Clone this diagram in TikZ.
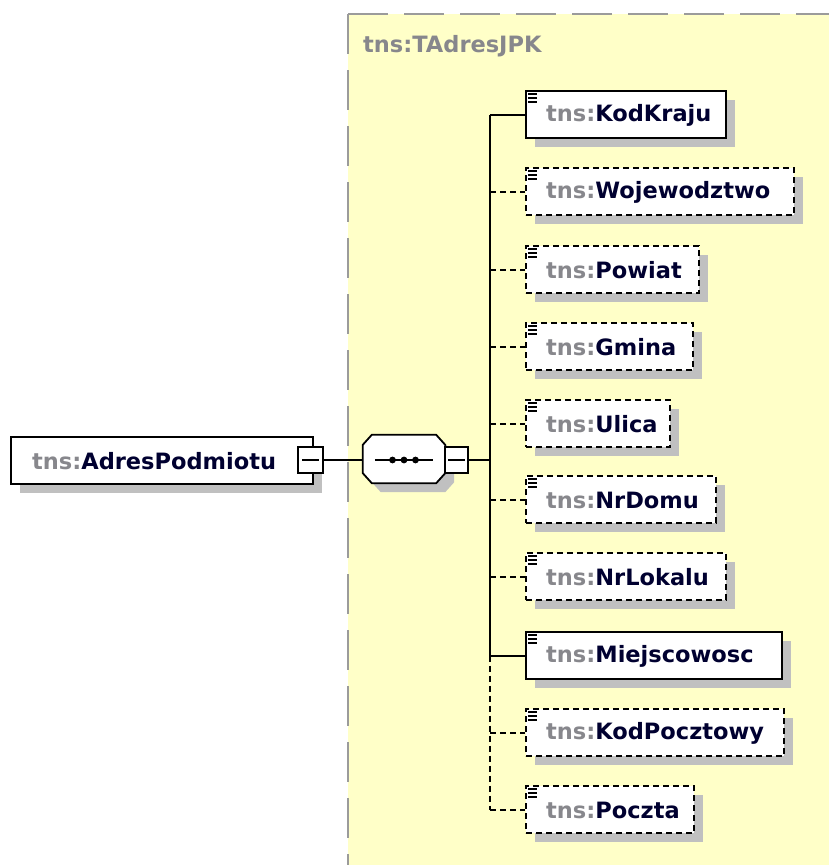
\documentclass[tikz,border=0pt]{standalone}
\usepackage{fontspec}
\setmainfont{DejaVu Sans}
\usetikzlibrary{shadows}

\definecolor{typefill}{RGB}{255,255,200}
\definecolor{typeborder}{RGB}{155,155,155}
\definecolor{nsgray}{RGB}{135,135,140}
\definecolor{namecol}{RGB}{0,0,48}
\definecolor{shadowgray}{RGB}{192,192,192}

\newcommand\tns{\textcolor{nsgray}{tns:}}

% one child element of the sequence: name, x, top y, width, box style, local name
\newcommand\xsdelem[6]{%
  \node[#5, minimum width=#4pt] (#1) at (#2,#3) {};
  \node[elemtext] (#1-text) at ([xshift=21pt,yshift=-1pt]#1.west) {\tns#6};
  \foreach \k in {4,8,12}
    \draw[iconline] ([shift={(3pt,-\k pt)}]#1.north west) -- ++(9pt,0pt);
}

% octagon outline of the sequence compositor, shifted by (#1pt,#2pt)
\newcommand\seqoctagon[2]{%
  ([shift={(#1pt+9pt,#2pt)}]seq.north west) --
  ([shift={(#1pt-9pt,#2pt)}]seq.north east) --
  ([shift={(#1pt,#2pt-10pt)}]seq.north east) --
  ([shift={(#1pt,#2pt+10pt)}]seq.south east) --
  ([shift={(#1pt-9pt,#2pt)}]seq.south east) --
  ([shift={(#1pt+9pt,#2pt)}]seq.south west) --
  ([shift={(#1pt,#2pt+10pt)}]seq.south west) --
  ([shift={(#1pt,#2pt-10pt)}]seq.north west) -- cycle}

\tikzset{
  boxshadow/.style={drop shadow={shadow xshift=9pt, shadow yshift=-9pt,
      fill=shadowgray, opacity=1}},
  elemreq/.style={draw=black, line width=2.2pt, fill=white, minimum height=47pt,
      anchor=north west, inner sep=0pt, boxshadow},
  elemopt/.style={elemreq, line width=2pt, dash pattern=on 6pt off 4pt},
  elemtext/.style={anchor=west, inner sep=0pt, text=namecol,
      font=\bfseries\fontsize{22.5pt}{26pt}\selectfont},
  iconline/.style={line width=1.5pt, black},
  reqline/.style={draw=black, line width=2pt},
  optline/.style={draw=black, line width=2pt, dash pattern=on 6pt off 4pt},
  minusbox/.style={draw=black, line width=1.6pt, fill=white, inner sep=0pt},
}

\begin{document}
\begin{tikzpicture}[x=1pt,y=-1pt]
\useasboundingbox (0,0) rectangle (828,865);

% complex type area
\node[fill=typefill, anchor=north west, minimum width=520pt, minimum height=900pt,
      inner sep=0pt] (typearea) at (348,14) {};
\draw[typeborder, line width=2pt, dash pattern=on 40pt off 16pt]
  (typearea.north west) -- (typearea.south west);
\draw[typeborder, line width=2pt, dash pattern=on 40pt off 16pt]
  (typearea.north west) -- (typearea.north east);
\node[anchor=west, inner sep=0pt, text=nsgray,
      font=\bfseries\fontsize{22.5pt}{26pt}\selectfont] (typename) at (363,46) {tns:TAdresJPK};

% root element
\node[elemreq, minimum width=302pt, minimum height=47pt] (root) at (10,436) {};
\node[elemtext] (root-text) at ([xshift=22pt,yshift=-1pt]root.west) {\tns AdresPodmiotu};
\node[minusbox, minimum width=25pt, minimum height=26pt] (rootminus) at (310.5,460) {};
\draw[line width=1.4pt] ([xshift=5pt]rootminus.west) -- ([xshift=-5pt]rootminus.east);
\draw[line width=1.8pt] ([xshift=-0.9pt]rootminus.north east) -- ([xshift=-0.9pt,yshift=1.5pt]rootminus.south east)
  ([yshift=0.9pt]rootminus.south west) -- ([xshift=-0.2pt,yshift=0.9pt]rootminus.south east);

% sequence compositor
\node[minimum width=82pt, minimum height=48pt, inner sep=0pt] (seq) at (404,459) {};
\fill[shadowgray] \seqoctagon{9}{-9};
\filldraw[fill=white, draw=black, line width=1.8pt] \seqoctagon{0}{0};
\draw[line width=1.6pt] ([xshift=12pt,yshift=-1pt]seq.west) -- ([xshift=-12pt,yshift=-1pt]seq.east);
\foreach \dx in {-11.5,0,11.5}
  \fill ([xshift=\dx pt,yshift=-1pt]seq.center) circle (3.4pt);
\node[minusbox, minimum width=23pt, minimum height=26pt] (seqminus) at (456.5,460) {};
\draw[line width=1.4pt] ([xshift=4pt]seqminus.west) -- ([xshift=-4pt]seqminus.east);
\draw[line width=1.8pt] ([xshift=-0.9pt]seqminus.north east) -- ([xshift=-0.9pt,yshift=1.5pt]seqminus.south east)
  ([yshift=0.9pt]seqminus.south west) -- ([xshift=-0.2pt,yshift=0.9pt]seqminus.south east);

\draw[reqline] (rootminus.east) -- (rootminus.east -| seq.west);

% children of the sequence
\xsdelem{kodkraju}{525}{90}{200}{elemreq}{KodKraju}
\xsdelem{wojewodztwo}{525}{167}{268}{elemopt}{Wojewodztwo}
\xsdelem{powiat}{525}{245}{173}{elemopt}{Powiat}
\xsdelem{gmina}{525}{322}{167}{elemopt}{Gmina}
\xsdelem{ulica}{525}{399}{144}{elemopt}{Ulica}
\xsdelem{nrdomu}{525}{475}{190}{elemopt}{NrDomu}
\xsdelem{nrlokalu}{525}{552}{200}{elemopt}{NrLokalu}
\xsdelem{miejscowosc}{525}{631}{256}{elemreq}{Miejscowosc}
\xsdelem{kodpocztowy}{525}{708}{258}{elemopt}{KodPocztowy}
\xsdelem{poczta}{525}{785}{168}{elemopt}{Poczta}

% trunk of the sequence
\coordinate (trunk) at (490,0);
\draw[reqline] (seqminus.east) -- (seqminus.east -| trunk);
\draw[reqline] (kodkraju.west -| trunk) -- (miejscowosc.west -| trunk);
\draw[optline] (miejscowosc.west -| trunk) -- (poczta.west -| trunk);
\draw[reqline] (kodkraju.west -| trunk) -- (kodkraju.west);
\draw[reqline] (miejscowosc.west -| trunk) -- (miejscowosc.west);
\foreach \n in {wojewodztwo,powiat,gmina,ulica,nrdomu,nrlokalu,kodpocztowy,poczta}
  \draw[optline] (\n.west -| trunk) -- (\n.west);
\end{tikzpicture}
\end{document}
